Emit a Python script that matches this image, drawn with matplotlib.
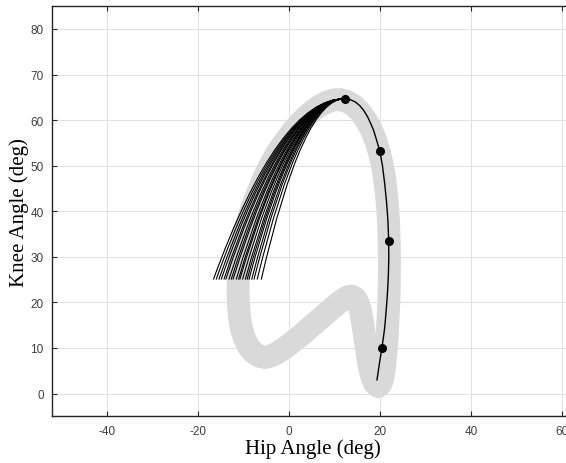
import matplotlib
matplotlib.use("Agg")
import matplotlib.pyplot as plt
from matplotlib.path import Path
from matplotlib.patches import PathPatch

plt.rcParams["axes.unicode_minus"] = False

# reference gait cycle (hip, knee), deg
band_hip = [19.6, 20.2, 20.6, 20.9, 21.2, 21.5, 21.7, 21.9, 22.0, 22.05, 22.0, 21.9,
            21.7, 21.4, 21.0, 20.5, 19.8, 19.0, 18.0, 16.9, 15.6, 14.2, 12.7, 11.2,
            9.7, 8.2, 6.7, 5.2, 3.7, 2.3, 0.9, -0.4, -1.7, -3.0, -4.2, -5.4, -6.5,
            -7.5, -8.4, -9.2, -9.9, -10.5, -10.9, -11.1, -11.2, -11.1, -10.9, -10.5,
            -9.8, -8.9, -7.8, -6.6, -5.3, -4.0, -2.6, -1.2, 0.0, 1.5, 3.0, 4.5, 6.0,
            7.5, 9.0, 10.4, 11.7, 12.8, 13.7, 14.5, 15.2, 15.7, 16.1, 16.5, 16.9,
            17.3, 17.7, 18.2, 18.8, 19.6]
band_knee = [1.6, 2.2, 3.5, 5.5, 8.5, 12.0, 16.0, 20.0, 24.0, 28.0, 32.0, 36.0,
             40.0, 43.5, 47.0, 50.0, 53.0, 55.6, 58.0, 60.0, 61.8, 63.2, 64.1, 64.5,
             64.4, 63.9, 63.1, 62.0, 60.7, 59.3, 57.7, 56.0, 54.2, 52.2, 50.0, 47.5,
             45.0, 42.5, 40.0, 37.5, 35.0, 32.0, 29.0, 26.0, 23.0, 20.0, 17.0, 14.5,
             12.2, 10.3, 9.0, 8.2, 7.9, 8.2, 8.9, 9.8, 10.7, 11.9, 13.1, 14.4, 15.7,
             17.0, 18.3, 19.5, 20.5, 21.2, 21.4, 21.0, 19.8, 18.0, 15.8, 13.2, 10.5,
             7.8, 5.5, 3.6, 2.2, 1.6]

# swing trajectory after the peak
traj_hip = [12.2, 13.4, 14.5, 15.5, 16.4, 17.2, 17.9, 18.5, 19.1, 19.6, 20.0, 20.5,
            21.0, 21.4, 21.7, 21.85, 21.9, 21.8, 21.6, 21.3, 21.0, 20.6, 20.3, 19.9,
            19.6, 19.3]
traj_knee = [64.7, 64.5, 64.0, 63.2, 62.1, 60.8, 59.3, 57.9, 56.0, 54.3, 52.8, 50.0,
             46.0, 42.0, 38.0, 34.0, 30.0, 26.0, 22.0, 18.0, 14.5, 11.5, 9.5, 7.0,
             5.0, 3.0]

# marked events
event_hip = [12.2, 19.9, 21.9, 20.4]
event_knee = [64.7, 53.2, 33.4, 10.0]

# candidate paths leaving the peak
fan_start_hip = 12.2
fan_start_knee = 64.7
fan_end_knee = 25.0
fan_end_hip = [-16.6, -16.0, -15.4, -14.9, -14.3, -13.9, -13.2, -12.7, -12.3, -11.6,
               -11.1, -10.8, -10.2, -9.6, -9.2, -8.8, -8.2, -7.7, -7.0, -6.1]
fan_ctrl_hip = [-2.2, -1.9, -1.6, -1.35, -1.05, -0.85, -0.5, -0.25, -0.05, 0.3,
                0.55, 0.7, 1.0, 1.3, 1.5, 1.7, 2.0, 2.25, 2.6, 3.05]

fig = plt.figure(figsize=(5.66, 4.64), dpi=100)
ax = fig.add_axes([0.0919, 0.1006, 0.922, 0.884])

ax.plot(band_hip, band_knee, color="#d9d9d9", lw=16.5, solid_capstyle="round",
        solid_joinstyle="round", zorder=2)

for xe, xc in zip(fan_end_hip, fan_ctrl_hip):
    verts = [(fan_start_hip, fan_start_knee), (xc, fan_start_knee), (xe, fan_end_knee)]
    path = Path(verts, [Path.MOVETO, Path.CURVE3, Path.CURVE3])
    ax.add_patch(PathPatch(path, facecolor="none", edgecolor="black", lw=0.8, zorder=3))

ax.plot(traj_hip, traj_knee, color="black", lw=1.0, zorder=4)
ax.plot(event_hip, event_knee, "o", color="black", ms=5.5, zorder=5)

ax.set_xlim(-52, 62.5)
ax.set_ylim(-5, 85)
ax.set_xticks([-40, -20, 0, 20, 40, 60])
ax.set_yticks([0, 10, 20, 30, 40, 50, 60, 70, 80])

ax.grid(True, color="#e0e0e0", lw=0.7, zorder=0)
ax.set_axisbelow(True)
for sp in ax.spines.values():
    sp.set_color("#262626")
    sp.set_linewidth(1.0)
ax.tick_params(direction="in", top=True, right=True, length=3.5, width=0.8,
               color="#262626", labelcolor="#404040", labelsize=8.5, pad=6)
for lab in ax.get_xticklabels() + ax.get_yticklabels():
    lab.set_family("Liberation Sans")

ax.set_xlabel("Hip Angle (deg)", family="Liberation Serif", fontsize=15, labelpad=1)
ax.set_ylabel("Knee Angle (deg)", family="Liberation Serif", fontsize=15, labelpad=1)

fig.savefig("out.png", dpi=100)
